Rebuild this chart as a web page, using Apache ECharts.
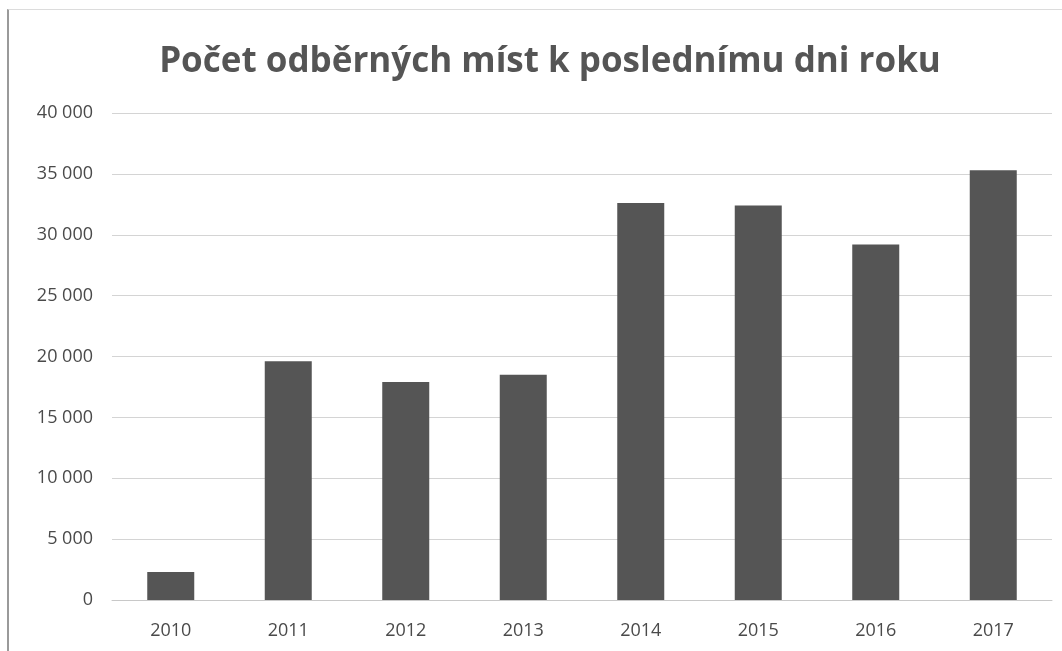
<!DOCTYPE html>
<html>
<head>
<meta charset="utf-8">
<script src="https://cdn.jsdelivr.net/npm/echarts@6/dist/echarts.min.js"></script>
<style>
	html, body { margin: 0; padding: 0; background: #fff; }
	#frame { position: absolute; left: 7px; top: 9px; width: 1055px; height: 642px;
		border-left: 2px solid #9a9a9a; border-top: 1px solid #dcdcdc; box-sizing: border-box; }
	#main { position: absolute; left: 0; top: 0; width: 1062px; height: 651px; }
</style>
</head>
<body>
<div id="frame"></div>
<div id="main"></div>
<script>
// kategorie a hodnoty
var years = ['2010', '2011', '2012', '2013', '2014', '2015', '2016', '2017'];
var counts = [2300, 19600, 17900, 18500, 32600, 32400, 29200, 35300];
var yTicks = [0, 5000, 10000, 15000, 20000, 25000, 30000, 35000, 40000];

function fmt(v) {
	// mezera jako oddělovač tisíců
	return String(v).replace(/\B(?=(\d{3})+(?!\d))/g, ' ');
}

var myChart = echarts.init(document.getElementById('main'));
var option = {
	animation : false,
	title : {
		text : 'Počet odběrných míst k poslednímu dni roku',
		left : 545,
		top : 40,
		textAlign : 'center',
		textStyle : {
			fontFamily : 'Open Sans',
			fontSize : 35,
			fontWeight : 'bold',
			color : '#555555'
		}
	},
	grid : {
		left : 112,
		right : 10,
		top : 113,
		bottom : 51
	},
	xAxis : {
		type : 'category',
		data : years,
		axisLine : { lineStyle : { color : '#c8c8c8' } },
		axisTick : { show : false },
		axisLabel : {
			margin : 22,
			fontFamily : 'Open Sans',
			fontSize : 18,
			fontWeight : 500,
			color : '#4a4a4a'
		}
	},
	yAxis : {
		type : 'value',
		min : yTicks[0],
		max : yTicks[yTicks.length - 1],
		interval : yTicks[1] - yTicks[0],
		axisLine : { show : false },
		axisTick : { show : false },
		splitLine : { lineStyle : { color : '#d4d4d4', width : 1 } },
		axisLabel : {
			margin : 19,
			fontFamily : 'Open Sans',
			fontSize : 18,
			fontWeight : 500,
			color : '#4a4a4a',
			formatter : fmt
		}
	},
	series : [{
		type : 'bar',
		data : counts,
		barWidth : '40%',
		itemStyle : { color : '#555555' }
	}]
};
myChart.setOption(option);
</script>
</body>
</html>
